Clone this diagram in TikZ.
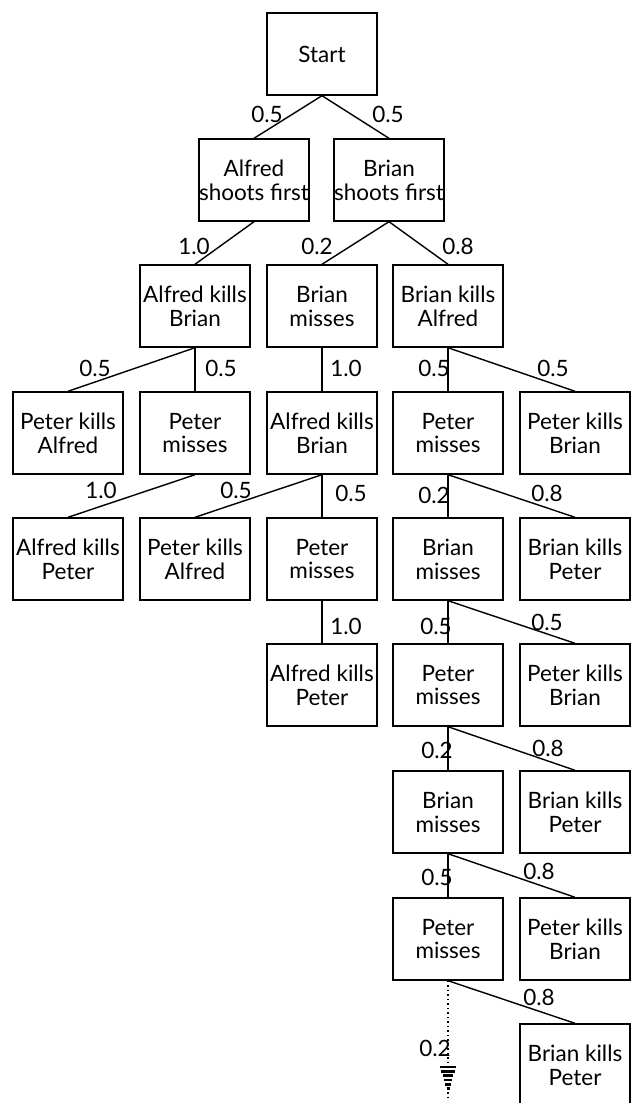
\documentclass[tikz,border=0pt]{standalone}
\usepackage{fontspec}
\setmainfont{Lato}

\begin{document}
\begin{tikzpicture}[x=0.025cm, y=-0.025cm, line width=1pt,
    box/.style={draw, minimum width=2.75cm, minimum height=2.05cm, inner sep=0pt,
      align=center, font=\fontsize{16}{17}\selectfont},
    prob/.style={inner sep=0pt, font=\fontsize{16}{17}\selectfont}]
    \useasboundingbox (0,0) rectangle (634,1103);

    \node[box] (start) at (322,54) {Start};
    \node[box] (afirst) at (254,180) {Alfred\\shoots first};
    \node[box] (bfirst) at (389,180) {Brian\\shoots first};

    \node[box] (akb) at (195,306) {Alfred kills\\Brian};
    \node[box] (bm) at (322,306) {Brian\\misses};
    \node[box] (bka) at (448,306) {Brian kills\\Alfred};

    \node[box] (pka) at (68,433) {Peter kills\\Alfred};
    \node[box] (pm) at (195,433) {Peter\\misses};
    \node[box] (akb2) at (322,433) {Alfred kills\\Brian};

    \node[box] (akp) at (68,559) {Alfred kills\\Peter};
    \node[box] (pka2) at (195,559) {Peter kills\\Alfred};
    \node[box] (pm2) at (322,559) {Peter\\misses};

    \node[box] (akp2) at (322,685) {Alfred kills\\Peter};

    % the long chain on the right
    \foreach \r/\who/\kill [count=\i] in {433/Peter/Brian, 559/Brian/Peter,
        685/Peter/Brian, 812/Brian/Peter, 939/Peter/Brian}{
      \node[box] (m\i) at (448,\r) {\who\\misses};
      \node[box] (k\i) at (575,\r) {\who\ kills\\\kill};
    }
    \node[box] (k6) at (575,1065) {Brian kills\\Peter};

    \foreach \a/\b in {start/afirst, start/bfirst, afirst/akb, bfirst/bm, bfirst/bka,
        akb/pka, akb/pm, bm/akb2, bka/m1, bka/k1, pm/akp, akb2/pka2, akb2/pm2,
        pm2/akp2, m1/m2, m1/k2, m2/m3, m2/k3, m3/m4, m3/k4, m4/m5, m4/k5, m5/k6}
      \draw (\a.south) -- (\b.north);

    % branch that goes on
    \coordinate (gnd) at (448,1064);
    \draw[dotted, line width=1.2pt] (m5.south) -- (gnd);
    \foreach \k in {0,...,5}
      \draw[line width=2pt] (440+1.3*\k,1067+4.3*\k) -- (456-1.3*\k,1067+4.3*\k);
    \draw[dotted, line width=1.2pt] (448,1092) -- (448,1099);

    \foreach \x/\y/\t [count=\n] in {267/114/0.5, 388/114/0.5, 194/246/1.0, 317/246/0.2,
        458/246/0.8, 95/368/0.5, 221/368/0.5, 346/368/1.0, 434/368/0.5, 553/368/0.5,
        101/490/1.0, 236/490/0.5, 351/493/0.5, 434/495/0.2, 547/493/0.8,
        346/626/1.0, 436/626/0.5, 547/622/0.5, 437/750/0.2, 548/748/0.8,
        437/877/0.5, 539/871/0.8, 539/997/0.8, 435/1048/0.2}
      \node[prob] (p\n) at (\x,\y) {\t};
  \end{tikzpicture}
\end{document}
